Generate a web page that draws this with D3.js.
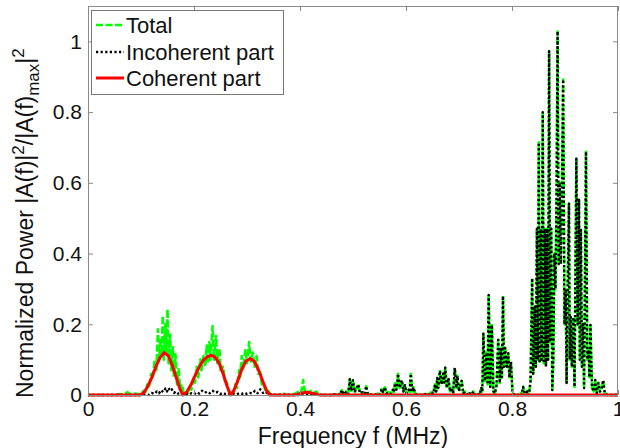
<!DOCTYPE html>
<html>
<head>
<meta charset="utf-8">
<script src="https://cdn.jsdelivr.net/npm/d3@7"></script>
<style>
  body { margin: 0; background: #fff; }
  text { font-family: "Liberation Sans", Arial, sans-serif; fill: #111; }
</style>
</head>
<body>
<div id="chart"></div>
<script>
// Frequency spectrum: total, incoherent and coherent parts

// axis ticks
var xTicks = [0, 0.2, 0.4, 0.6, 0.8, 1];
var xTickLabels = ["0", "0.2", "0.4", "0.6", "0.8", "1"];
var yTicks = [0, 0.2, 0.4, 0.6, 0.8, 1];
var yTickLabels = ["0", "0.2", "0.4", "0.6", "0.8", "1"];

var seriesNames = ["Total", "Incoherent part", "Coherent part"];

// Total power [f (MHz), normalized power]
var totalPts = [
  [0,0],[0.05,0],[0.06,0.003],[0.065,0],[0.075,0.008],[0.08,0.002],[0.09,0.004],[0.097,0],
  [0.100,0.003],[0.105,0.012],[0.108,0.008],[0.112,0.03],[0.115,0.02],[0.119,0.06],[0.122,0.045],
  [0.126,0.10],[0.129,0.07],[0.132,0.186],[0.134,0.10],[0.137,0.16],[0.139,0.11],[0.141,0.224],
  [0.143,0.10],[0.146,0.2],[0.148,0.12],[0.150,0.243],[0.152,0.09],[0.155,0.17],[0.157,0.07],
  [0.160,0.135],[0.162,0.05],[0.165,0.115],[0.168,0.03],[0.171,0.073],[0.174,0.015],[0.177,0.03],
  [0.181,0.003],[0.185,0],[0.188,0.005],[0.192,0.025],[0.195,0.015],[0.199,0.05],[0.202,0.035],
  [0.205,0.08],[0.208,0.05],[0.212,0.1],[0.214,0.07],[0.218,0.11],[0.221,0.08],[0.224,0.14],
  [0.226,0.09],[0.229,0.15],[0.231,0.1],[0.235,0.195],[0.238,0.1],[0.2415,0.167],[0.244,0.09],
  [0.248,0.13],[0.25,0.07],[0.255,0.08],[0.258,0.04],[0.262,0.035],[0.266,0.01],[0.27,0],
  [0.274,0.005],[0.278,0.03],[0.281,0.02],[0.285,0.07],[0.287,0.05],[0.29,0.11],[0.293,0.075],
  [0.297,0.13],[0.3,0.09],[0.304,0.15],[0.307,0.095],[0.311,0.12],[0.314,0.08],[0.318,0.11],
  [0.321,0.06],[0.325,0.065],[0.328,0.03],[0.331,0.035],[0.335,0.01],[0.34,0.012],[0.345,0],
  [0.36,0],[0.37,0.004],[0.375,0],[0.39,0.003],[0.398,0.01],[0.402,0.005],[0.406,0.042],
  [0.409,0.01],[0.412,0.015],[0.416,0.005],[0.42,0.012],[0.425,0.004],[0.43,0.01],[0.436,0.002],
  [0.445,0],[0.46,0],[0.47,0.003],[0.475,0],[0.479,0.014],[0.483,0.002],[0.488,0.01],[0.491,0.003],
  [0.494,0.045],[0.497,0.012],[0.500,0.042],[0.503,0.008],[0.507,0.02],[0.510,0.03],[0.513,0.005],
  [0.518,0.008],[0.522,0.003],[0.525,0.025],[0.528,0.002],[0.54,0],[0.548,0.004],[0.551,0.001],
  [0.554,0.017],[0.557,0.006],[0.56,0.022],[0.563,0.005],[0.567,0.008],[0.571,0.003],[0.575,0.015],
  [0.577,0.008],[0.579,0.033],[0.582,0.015],[0.585,0.06],[0.588,0.02],[0.592,0.042],[0.595,0.01],
  [0.598,0.028],[0.601,0.005],[0.605,0.015],[0.607,0.008],[0.609,0.06],[0.612,0.01],[0.614,0.022],
  [0.618,0.002],[0.63,0],[0.638,0.003],[0.642,0],[0.648,0.008],[0.651,0.003],[0.655,0.03],
  [0.657,0.01],[0.659,0.048],[0.661,0.02],[0.664,0.068],[0.667,0.03],[0.670,0.06],[0.672,0.035],
  [0.674,0.077],[0.677,0.02],[0.680,0.048],[0.683,0.01],[0.686,0.02],[0.689,0.005],[0.692,0.077],
  [0.695,0.02],[0.697,0.054],[0.700,0.01],[0.703,0.03],[0.705,0.04],[0.708,0.005],[0.712,0.01],
  [0.716,0],[0.72,0.005],[0.723,0],[0.727,0.01],[0.73,0],[0.736,0.003],[0.739,0],
  [0.742,0.02],[0.744,0.01],[0.746,0.173],[0.749,0.04],[0.752,0.12],[0.754,0.03],[0.756,0.283],
  [0.759,0.023],[0.762,0.198],[0.765,0.01],[0.768,0.005],[0.771,0.03],[0.774,0.156],[0.777,0.034],
  [0.779,0.13],[0.781,0.05],[0.783,0.28],[0.785,0.08],[0.787,0.133],[0.79,0.08],[0.793,0.118],
  [0.795,0.05],[0.798,0.094],[0.801,0.005],[0.806,0],[0.812,0],[0.816,0.005],[0.818,0],
  [0.821,0.023],[0.824,0.003],[0.829,0.01],[0.832,0],[0.835,0.04],[0.838,0.33],[0.840,0.06],
  [0.843,0.25],[0.845,0.08],[0.847,0.47],[0.849,0.1],[0.8505,0.714],[0.852,0.09],[0.854,0.47],
  [0.856,0.1],[0.858,0.8],[0.860,0.09],[0.862,0.47],[0.864,0.08],[0.866,0.47],[0.868,0.1],
  [0.870,0.972],[0.872,0.15],[0.874,0.47],[0.876,0.014],[0.878,0.1],[0.880,0.4],[0.882,0.3],
  [0.884,0.55],[0.886,1.028],[0.888,0.37],[0.890,0.6],[0.892,0.37],[0.894,0.55],[0.8965,0.892],
  [0.899,0.2],[0.9013,0.3],[0.903,0.034],[0.905,0.3],[0.9075,0.541],[0.909,0.1],[0.911,0.22],
  [0.913,0.08],[0.9157,0.22],[0.918,0.023],[0.9214,0.668],[0.924,0.2],[0.9264,0.552],[0.928,0.1],
  [0.93,0.467],[0.932,0.08],[0.934,0.2],[0.936,0.02],[0.9396,0.688],[0.942,0.1],[0.9447,0.127],
  [0.946,0.05],[0.948,0.198],[0.951,0.02],[0.954,0.01],[0.957,0.042],[0.960,0.005],[0.963,0.034],
  [0.966,0.01],[0.969,0.015],[0.972,0.042],[0.975,0.005],[0.98,0],[1.0,0]
];

// Incoherent part below 0.45 MHz (above that it sits on top of the total curve)
var incoherentLowPts = [
  [0,0],[0.1,0],[0.11,0.002],[0.115,0],[0.12,0.006],[0.125,0.003],[0.13,0.01],[0.134,0.005],
  [0.138,0.014],[0.142,0.008],[0.146,0.018],[0.149,0.01],[0.152,0.02],[0.155,0.012],[0.158,0.016],
  [0.162,0.006],[0.166,0.01],[0.17,0.004],[0.175,0.006],[0.18,0.002],[0.185,0.004],[0.19,0.001],
  [0.195,0.005],[0.2,0.002],[0.205,0.008],[0.21,0.004],[0.215,0.012],[0.22,0.006],[0.225,0.01],
  [0.23,0.005],[0.235,0.012],[0.24,0.006],[0.245,0.009],[0.25,0.003],[0.255,0.006],[0.26,0.002],
  [0.265,0.004],[0.27,0.001],[0.275,0.004],[0.28,0.002],[0.285,0.005],[0.29,0.003],[0.295,0.007],
  [0.3,0.003],[0.305,0.006],[0.31,0.004],[0.315,0.012],[0.32,0.005],[0.325,0.016],[0.33,0.006],
  [0.335,0.01],[0.34,0.002],[0.35,0.001],[0.36,0],[0.4,0],[0.405,0.003],[0.41,0.001],[0.42,0.004],
  [0.425,0.001],[0.44,0]
];
var incoherentPts = incoherentLowPts.concat(totalPts.filter(function(d) { return d[0] > 0.44; }));

// Coherent part
var coherentPts = [
  [0,0],[0.098,0],[0.105,0.006],[0.112,0.022],[0.12,0.048],[0.128,0.08],[0.136,0.106],[0.144,0.12],
  [0.152,0.11],[0.16,0.08],[0.168,0.042],[0.174,0.015],[0.179,0],
  [0.186,0.008],[0.194,0.028],[0.202,0.055],[0.21,0.08],[0.218,0.099],[0.226,0.109],[0.233,0.112],
  [0.24,0.107],[0.248,0.088],[0.255,0.06],[0.262,0.027],[0.2687,0],
  [0.275,0.012],[0.282,0.038],[0.29,0.072],[0.298,0.096],[0.306,0.103],[0.314,0.095],[0.322,0.07],
  [0.33,0.038],[0.337,0.012],[0.343,0],
  [0.39,0],[0.4,0.004],[0.412,0.008],[0.424,0.005],[0.434,0.001],[0.44,0],[1,0]
];

var svgWidth = 620;
var svgHeight = 448;
var plot = { left: 88, right: 618, top: 6, bottom: 395 };

var svg = d3.select("#chart")
  .append("svg")
    .attr("width", svgWidth)
    .attr("height", svgHeight);

var x = d3.scaleLinear().domain([0, 1]).range([plot.left, plot.right]);
var y = d3.scaleLinear().domain([0, 1.1]).range([plot.bottom, plot.top]);

svg.append("defs").append("clipPath")
    .attr("id", "clip")
  .append("rect")
    .attr("x", plot.left)
    .attr("y", plot.top)
    .attr("width", plot.right - plot.left)
    .attr("height", plot.bottom - plot.top + 2);

var line = d3.line()
  .x(function(d) { return x(d[0]); })
  .y(function(d) { return y(d[1]); });

var styles = [
  { pts: totalPts, color: "#00ff00", width: 2.6, dash: "7,2.5" },
  { pts: incoherentPts, color: "#000", width: 2.4, dash: "2.2,2.4" },
  { pts: coherentPts, color: "#ff0000", width: 3, dash: null }
];

var lines = svg.append("g").attr("clip-path", "url(#clip)");
styles.forEach(function(s) {
  lines.append("path")
    .datum(s.pts)
    .attr("d", line)
    .attr("fill", "none")
    .attr("stroke", s.color)
    .attr("stroke-width", s.width)
    .attr("stroke-linejoin", "round")
    .attr("stroke-dasharray", s.dash);
});

// axes (MATLAB style, ticks inward on all four sides)
var axisColor = "#8a8a8a";
function styleAxis(g) {
  g.select(".domain").remove();
  g.selectAll(".tick line").attr("stroke", axisColor);
  g.selectAll(".tick text")
    .attr("font-size", 21)
    .attr("font-family", "'Liberation Sans', Arial, sans-serif")
    .attr("fill", "#111");
}

svg.append("g")
  .attr("transform", "translate(0," + plot.bottom + ")")
  .call(d3.axisBottom(x).tickValues(xTicks).tickSize(-5).tickPadding(6)
    .tickFormat(function(d, i) { return xTickLabels[i]; }))
  .call(styleAxis);

svg.append("g")
  .attr("transform", "translate(" + plot.left + ",0)")
  .call(d3.axisLeft(y).tickValues(yTicks).tickSize(-5).tickPadding(6)
    .tickFormat(function(d, i) { return yTickLabels[i]; }))
  .call(styleAxis);

svg.append("g")
  .attr("transform", "translate(0," + plot.top + ")")
  .call(d3.axisTop(x).tickValues(xTicks).tickSize(-5).tickFormat(""))
  .call(styleAxis);

svg.append("g")
  .attr("transform", "translate(" + plot.right + ",0)")
  .call(d3.axisRight(y).tickValues(yTicks).tickSize(-5).tickFormat(""))
  .call(styleAxis);

svg.append("rect")
  .attr("x", plot.left + 0.5)
  .attr("y", plot.top + 0.5)
  .attr("width", plot.right - plot.left - 1)
  .attr("height", plot.bottom - plot.top)
  .attr("fill", "none")
  .attr("stroke", axisColor);

// axis titles
svg.append("text")
  .attr("x", (plot.left + plot.right) / 2)
  .attr("y", 444)
  .attr("text-anchor", "middle")
  .attr("font-size", 23)
  .text("Frequency f (MHz)");

var yt = svg.append("text")
  .attr("transform", "translate(33,398) rotate(-90)")
  .attr("font-size", 23);
yt.append("tspan").text("Normalized Power |A(f)|");
yt.append("tspan").attr("font-size", 17).attr("dy", -9).text("2");
yt.append("tspan").attr("dy", 9).text("/|A(f)");
yt.append("tspan").attr("font-size", 17).attr("dy", 6).text("max");
yt.append("tspan").attr("dy", -6).text("|");
yt.append("tspan").attr("font-size", 17).attr("dy", -9).text("2");

// legend
var legend = svg.append("g");
legend.append("rect")
  .attr("x", 91.5).attr("y", 10.5)
  .attr("width", 192).attr("height", 84)
  .attr("fill", "#fff")
  .attr("stroke", "#777");

var legendY = [25, 52, 78];
styles.forEach(function(s, i) {
  legend.append("line")
    .attr("x1", 96).attr("x2", 124)
    .attr("y1", legendY[i]).attr("y2", legendY[i])
    .attr("stroke", s.color)
    .attr("stroke-width", s.width)
    .attr("stroke-dasharray", s.dash);
  legend.append("text")
    .attr("x", 126)
    .attr("y", legendY[i] + 8)
    .attr("font-size", 22)
    .text(seriesNames[i]);
});
</script>
</body>
</html>
